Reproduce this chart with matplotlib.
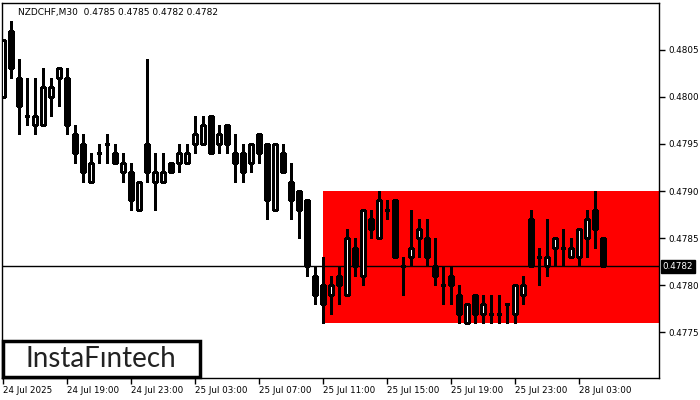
import matplotlib
matplotlib.use("Agg")
import matplotlib.pyplot as plt
from matplotlib.patches import Rectangle

# NZDCHF M30 candles, 24 Jul 15:00 .. 28 Jul 04:30
opens = [0.4800, 0.4807, 0.4802, 0.4798, 0.4797, 0.4797, 0.4800, 0.4802, 0.4802, 0.4796,
         0.4795, 0.4791, 0.4794, 0.4795, 0.4794, 0.4792, 0.4792, 0.4788, 0.4795, 0.4791,
         0.4791, 0.4793, 0.4793, 0.4793, 0.4795, 0.4795, 0.4798, 0.4795, 0.4797, 0.4794,
         0.4794, 0.4793, 0.4796, 0.4795, 0.4788, 0.4794, 0.4791, 0.4790, 0.4789, 0.4781,
         0.4780, 0.4779, 0.4781, 0.4779, 0.4784, 0.4781, 0.4787, 0.4785, 0.4788, 0.4789,
         0.4782, 0.4783, 0.4785, 0.4785, 0.4782, 0.4780, 0.4781, 0.4779, 0.4776, 0.4779,
         0.4777, 0.4777, 0.4777, 0.4778, 0.4777, 0.4779, 0.4787, 0.4783, 0.4782, 0.4784,
         0.4784, 0.4783, 0.4783, 0.4785, 0.4788, 0.4785]
highs = [0.4806, 0.4808, 0.4804, 0.4802, 0.4802, 0.4803, 0.4802, 0.4803, 0.4803, 0.4797,
         0.4796, 0.4794, 0.4795, 0.4796, 0.4795, 0.4794, 0.4793, 0.4791, 0.4804, 0.4794,
         0.4794, 0.4793, 0.4795, 0.4795, 0.4798, 0.4798, 0.4798, 0.4797, 0.4797, 0.4796,
         0.4795, 0.4795, 0.4796, 0.4795, 0.4795, 0.4795, 0.4793, 0.4790, 0.4789, 0.4782,
         0.4783, 0.4781, 0.4782, 0.4786, 0.4785, 0.4788, 0.4788, 0.4790, 0.4789, 0.4789,
         0.4783, 0.4788, 0.4787, 0.4787, 0.4785, 0.4782, 0.4782, 0.4780, 0.4778, 0.4779,
         0.4779, 0.4779, 0.4779, 0.4778, 0.4780, 0.4781, 0.4788, 0.4784, 0.4787, 0.4785,
         0.4786, 0.4785, 0.4786, 0.4788, 0.4790, 0.4785]
lows = [0.4800, 0.4802, 0.4796, 0.4797, 0.4796, 0.4797, 0.4798, 0.4799, 0.4796, 0.4793,
        0.4791, 0.4791, 0.4793, 0.4793, 0.4793, 0.4791, 0.4788, 0.4788, 0.4791, 0.4788,
        0.4791, 0.4792, 0.4792, 0.4793, 0.4794, 0.4795, 0.4794, 0.4794, 0.4794, 0.4791,
        0.4791, 0.4792, 0.4793, 0.4787, 0.4788, 0.4792, 0.4787, 0.4785, 0.4781, 0.4778,
        0.4776, 0.4777, 0.4778, 0.4779, 0.4781, 0.4780, 0.4785, 0.4785, 0.4787, 0.4783,
        0.4779, 0.4782, 0.4783, 0.4782, 0.4780, 0.4778, 0.4778, 0.4776, 0.4776, 0.4776,
        0.4776, 0.4776, 0.4776, 0.4776, 0.4776, 0.4778, 0.4782, 0.4780, 0.4781, 0.4782,
        0.4782, 0.4783, 0.4782, 0.4783, 0.4784, 0.4782]
closes = [0.4806, 0.4803, 0.4799, 0.4798, 0.4798, 0.4801, 0.4801, 0.4803, 0.4797, 0.4794,
          0.4792, 0.4793, 0.4794, 0.4795, 0.4793, 0.4793, 0.4789, 0.4791, 0.4792, 0.4792,
          0.4792, 0.4792, 0.4794, 0.4794, 0.4796, 0.4797, 0.4794, 0.4796, 0.4795, 0.4793,
          0.4792, 0.4795, 0.4794, 0.4789, 0.4795, 0.4792, 0.4789, 0.4788, 0.4782, 0.4779,
          0.4778, 0.4780, 0.4780, 0.4785, 0.4782, 0.4788, 0.4786, 0.4789, 0.4788, 0.4783,
          0.4782, 0.4784, 0.4786, 0.4783, 0.4781, 0.4780, 0.4780, 0.4777, 0.4778, 0.4777,
          0.4778, 0.4777, 0.4777, 0.4778, 0.4780, 0.4780, 0.4782, 0.4783, 0.4783, 0.4785,
          0.4784, 0.4784, 0.4786, 0.4787, 0.4786, 0.4782]

time_labels = ["24 Jul 2025", "24 Jul 19:00", "24 Jul 23:00", "25 Jul 03:00",
               "25 Jul 07:00", "25 Jul 11:00", "25 Jul 15:00", "25 Jul 19:00",
               "25 Jul 23:00", "28 Jul 03:00"]
price_ticks = [0.4775, 0.4780, 0.4785, 0.4790, 0.4795, 0.4800, 0.4805]

zone_start = 40          # pattern rectangle starts at 25 Jul 11:00
zone_low, zone_high = 0.4776, 0.4790
last_price = 0.4782
title = "NZDCHF,M30  0.4785 0.4785 0.4782 0.4782"

fig = plt.figure(figsize=(7, 4), dpi=100)
ax = fig.add_axes([2 / 700, 22 / 400, 657 / 700, 375 / 400])
ax.set_xlim(-0.16, 81.96)
ax.set_ylim(0.477017, 0.480994)

ax.add_patch(Rectangle((zone_start, zone_low), 100, zone_high - zone_low,
                       facecolor="#ff0000", edgecolor="none", zorder=1))
ax.axhline(last_price, color="black", lw=1, zorder=2)

w = 0.52
for i in range(len(opens)):
    o, h, l, c = opens[i], highs[i], lows[i], closes[i]
    ax.vlines(i, l, h, color="black", lw=1, zorder=3, antialiased=False)
    if o == c:
        ax.hlines(o, i - w / 2, i + w / 2, color="black", lw=1, zorder=4,
                  antialiased=False)
    else:
        fc = "white" if c > o else "black"
        ax.bar(i, abs(c - o), bottom=min(o, c), width=w, facecolor=fc,
               edgecolor="black", lw=1, zorder=4, antialiased=False)

ax.yaxis.tick_right()
ax.set_yticks(price_ticks)
ax.set_yticklabels([f"{p:.4f}" for p in price_ticks])
ax.set_xticks(range(0, 8 * len(time_labels), 8))
ax.set_xticklabels(time_labels, ha="left")
ax.tick_params(axis="both", direction="out", length=4, width=1,
               labelsize=6.3, pad=2)
ax.tick_params(axis="y", pad=3)
for s in ax.spines.values():
    s.set_linewidth(1)

ax.text(16 / 657, 1 - 10 / 375, title, transform=ax.transAxes, fontsize=6.5,
        va="center", ha="left", color="black")

# current price tag
ax.text(1.005, last_price, f"{last_price:.4f}", transform=ax.get_yaxis_transform(),
        fontsize=6.3, color="white", va="center", ha="left",
        bbox=dict(boxstyle="square,pad=0.2", fc="black", ec="black"), zorder=10)

# logo box
fig.patches.append(Rectangle((3 / 700, 23 / 400), 197 / 700, 36 / 400,
                             transform=fig.transFigure, facecolor="white",
                             edgecolor="black", lw=2.5, zorder=20))
fig.text(101 / 700, 41 / 400, "InstaFıntech", fontsize=20, ha="center",
         va="center", color="#222222", zorder=21, family="Lato")

fig.savefig("out.png", dpi=100)
